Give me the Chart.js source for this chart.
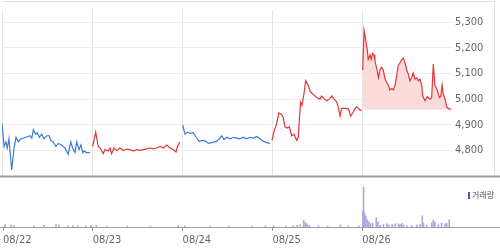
<!DOCTYPE html>
<html><head><meta charset="utf-8">
<script src="https://cdn.jsdelivr.net/npm/chart.js@4/dist/chart.umd.min.js"></script>
<style>
html,body{margin:0;padding:0;background:#fff;width:500px;height:252px;overflow:hidden;}
#wrap{position:relative;width:500px;height:252px;}
#cPrice{position:absolute;left:0;top:0;}
#cVol{position:absolute;left:0;top:184px;}
#legend{position:absolute;left:468px;top:190px;font:8px 'Noto Sans CJK KR',sans-serif;color:#555;white-space:nowrap;line-height:9px;}
#legend i{display:inline-block;width:2px;height:7px;background:#5a4fa8;margin-right:2px;vertical-align:-1px;}
</style></head>
<body><div id="wrap">
<canvas id="cPrice" width="500" height="185"></canvas>
<canvas id="cVol" width="500" height="68"></canvas>
<div id="legend"><i></i>거래량</div>
</div>
<script>
// ---- data ----
const dates = ['08/22','08/23','08/24','08/25','08/26'];
const sessionMinutes = 390;
const prevClose0826 = 4960;
const priceTicks = [4800,4900,5000,5100,5200,5300];
const priceMin = 4702, priceMax = 5350;
const volMax = 105;

// [minute from open, price]
const price0822 = [[0,4907],[9,4815],[17,4833],[23,4809],[30,4845],[42,4723],[52,4809],[61,4851],[71,4833],[78,4842],[90,4847],[104,4851],[121,4857],[129,4847],[136,4881],[146,4863],[153,4869],[162,4851],[172,4863],[182,4845],[194,4857],[205,4857],[211,4839],[222,4833],[234,4815],[244,4827],[259,4821],[273,4809],[287,4785],[298,4833],[306,4809],[316,4791],[324,4833],[334,4803],[342,4821],[350,4791],[355,4797],[367,4791],[381,4791]];
const price0823 = [[3,4815],[16,4871],[27,4815],[35,4809],[49,4787],[56,4803],[71,4797],[78,4809],[85,4787],[95,4809],[107,4799],[121,4809],[136,4799],[150,4805],[165,4803],[180,4797],[194,4803],[208,4800],[222,4803],[237,4806],[251,4809],[265,4806],[280,4809],[295,4815],[309,4809],[324,4821],[338,4809],[352,4803],[364,4794],[370,4815],[381,4833]];
const price0824 = [[3,4899],[13,4863],[23,4871],[35,4866],[49,4869],[61,4851],[75,4835],[90,4839],[104,4835],[114,4827],[129,4830],[150,4835],[162,4845],[172,4857],[182,4842],[194,4851],[208,4845],[223,4851],[237,4848],[251,4845],[266,4851],[280,4845],[295,4851],[309,4848],[324,4854],[338,4845],[353,4835],[367,4830],[381,4827]];
const price0825 = [[0,4839],[9,4875],[20,4904],[30,4946],[42,4940],[49,4928],[56,4892],[66,4887],[75,4892],[85,4857],[95,4863],[107,4839],[114,4851],[118,4916],[124,4988],[130,4976],[139,5024],[146,5072],[157,5054],[165,5030],[179,5018],[194,5006],[208,5000],[215,5012],[225,5002],[237,4994],[248,5000],[259,5012],[269,5000],[280,4990],[287,4970],[295,4934],[302,4964],[316,4964],[331,4962],[341,4934],[350,4946],[360,4964],[367,4970],[381,4958],[388,4955]];
const price0826 = [[3,5114],[9,5269],[17,5227],[23,5191],[27,5155],[35,5173],[40,5155],[46,5179],[52,5173],[56,5149],[64,5119],[71,5084],[78,5114],[85,5125],[92,5114],[100,5078],[107,5066],[114,5054],[121,5036],[129,5042],[136,5036],[143,5054],[150,5090],[157,5132],[165,5143],[172,5155],[179,5161],[186,5143],[194,5114],[201,5096],[208,5072],[215,5084],[222,5102],[230,5078],[237,5084],[244,5072],[251,5078],[259,5054],[263,5012],[273,4994],[283,5010],[295,5000],[302,5006],[309,5137],[316,5054],[326,5036],[335,5006],[341,5010],[347,5055],[352,5020],[360,5000],[367,4970],[374,4964],[385,4960]];

// [minute from open, volume]
const vol0822 = [[9,6],[35,5],[48,3],[134,3],[178,4],[230,6],[243,5],[282,3],[303,3],[325,3],[360,3],[381,4]];
const vol0823 = [[15,4],[60,2],[150,2],[250,2],[370,3]];
const vol0824 = [[10,3],[120,2],[200,2],[300,2],[360,3]];
const vol0825 = [[5,3],[60,2],[90,3],[107,4],[121,6],[136,17],[143,11],[150,8],[160,4],[200,3],[240,2],[295,5],[330,3],[375,3]];
const vol0826 = [[3,39],[6,100],[10,35],[16,27],[23,18],[29,12],[36,8],[45,10],[61,23],[68,12],[78,5],[92,6],[107,8],[115,5],[130,6],[143,8],[157,8],[164,6],[172,9],[179,5],[194,3],[215,4],[237,5],[251,6],[261,28],[266,10],[280,5],[302,10],[309,18],[316,12],[331,6],[345,10],[360,8],[367,9],[378,18]];

// ---- style ----
const RED = '#e2363c', BLUE = '#3d79d6', PINK = 'rgba(250,205,205,0.75)', VOL = '#b3a4e4';
const FONT = "'Liberation Sans Narrow','DejaVu Sans Condensed',sans-serif";

const toPts = (arr, d) => arr.map(([m, v]) => ({x: d * sessionMinutes + m, y: v}));
const lineDs = (arr, d, color, extra) => Object.assign({
  type: 'line', data: toPts(arr, d), borderColor: color, borderWidth: 1.2,
  pointRadius: 0, tension: 0, fill: false
}, extra || {});
const dayTicks = s => { s.ticks = dates.map((_, i) => ({value: i * sessionMinutes})); };

const framePrice = {
  id: 'framePrice',
  afterDraw(chart) {
    const {ctx, chartArea: a, width} = chart;
    ctx.save();
    ctx.strokeStyle = '#dddddd'; ctx.lineWidth = 1;
    ctx.beginPath();
    ctx.moveTo(a.left, 1.5); ctx.lineTo(width - 5.5, 1.5);
    ctx.moveTo(width - 5.5, 1.5); ctx.lineTo(width - 5.5, a.bottom);
    ctx.stroke();
    ctx.strokeStyle = '#9a9a9a'; ctx.lineWidth = 2;
    ctx.beginPath(); ctx.moveTo(0, a.bottom + 1); ctx.lineTo(width, a.bottom + 1); ctx.stroke();
    ctx.restore();
  }
};
const frameVol = {
  id: 'frameVol',
  afterDraw(chart) {
    const {ctx, chartArea: a, width} = chart;
    ctx.save();
    ctx.strokeStyle = '#a0a0a0'; ctx.lineWidth = 1;
    ctx.beginPath(); ctx.moveTo(0, a.bottom + 0.5); ctx.lineTo(width, a.bottom + 0.5); ctx.stroke();
    ctx.restore();
  }
};

new Chart(document.getElementById('cPrice'), {
  type: 'line',
  data: {datasets: [
    lineDs(price0822, 0, BLUE),
    lineDs(price0823, 1, RED),
    lineDs(price0824, 2, BLUE),
    lineDs(price0825, 3, RED),
    lineDs(price0826, 4, RED, {fill: {target: {value: prevClose0826}, above: PINK, below: PINK}, backgroundColor: PINK})
  ]},
  options: {
    responsive: false, animation: false, devicePixelRatio: 1,
    layout: {padding: {left: 2, top: 2, right: 0, bottom: 2}},
    plugins: {legend: {display: false}, tooltip: {enabled: false}},
    scales: {
      x: {type: 'linear', min: 0, max: dates.length * sessionMinutes, afterBuildTicks: dayTicks,
          ticks: {display: false}, grid: {color: '#e4e4e4', drawTicks: false}, border: {display: false}},
      y: {position: 'right', min: priceMin, max: priceMax,
          afterBuildTicks: s => { s.ticks = priceTicks.map(v => ({value: v})); },
          afterFit: s => { s.width = 48; },
          ticks: {padding: 3, color: '#666', font: {family: FONT, size: 11}, callback: v => v.toLocaleString('en-US')},
          grid: {color: '#eeeeee', drawTicks: false}, border: {display: false}}
    }
  },
  plugins: [framePrice]
});

const volData = [vol0822, vol0823, vol0824, vol0825, vol0826].flatMap((arr, d) => toPts(arr, d));

new Chart(document.getElementById('cVol'), {
  type: 'bar',
  data: {datasets: [{data: volData, backgroundColor: VOL, barThickness: 1, borderWidth: 0}]},
  options: {
    responsive: false, animation: false, devicePixelRatio: 1,
    layout: {padding: {left: 2, top: 1, right: 48, bottom: 0}},
    plugins: {legend: {display: false}, tooltip: {enabled: false}},
    scales: {
      x: {type: 'linear', offset: false, min: 0, max: dates.length * sessionMinutes, afterBuildTicks: dayTicks,
          afterFit: s => { s.height = 25; },
          ticks: {align: 'start', padding: 3, color: '#666', autoSkip: false, maxRotation: 0,
                  font: {family: FONT, size: 11}, callback: (v, i) => dates[i]},
          grid: {offset: false, drawOnChartArea: false, tickLength: 4, tickColor: '#999'}, border: {display: false}},
      y: {display: false, min: 0, max: volMax}
    }
  },
  plugins: [frameVol]
});
</script>
</body></html>
